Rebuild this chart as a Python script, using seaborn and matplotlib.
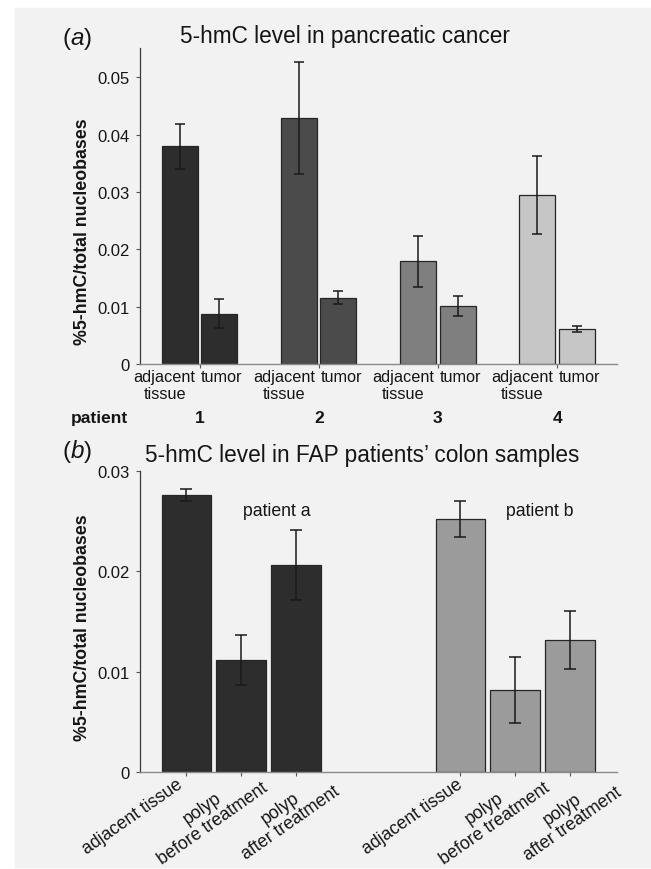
import numpy as np
import pandas as pd
import matplotlib
matplotlib.use('Agg')
import matplotlib.pyplot as plt
import seaborn as sns
from matplotlib.patches import Rectangle
from matplotlib.transforms import offset_copy, blended_transform_factory

# panel (a): 5-hmC in pancreatic cancer
patients = ['1', '2', '3', '4']
tissues = ['adjacent\ntissue', 'tumor']
adjacent_mean = [0.0380, 0.0429, 0.0179, 0.0295]
adjacent_err = [0.0039, 0.0098, 0.0044, 0.0068]
tumor_mean = [0.0088, 0.0116, 0.0101, 0.0061]
tumor_err = [0.0025, 0.0011, 0.0018, 0.0006]
patient_colors = ['#2d2d2d', '#4b4b4b', '#7f7f7f', '#c6c6c6']
yticks_a = [0, 0.01, 0.02, 0.03, 0.04, 0.05]

# panel (b): FAP patients' colon samples
fap_patients = ['a', 'a', 'a', 'b', 'b', 'b']
fap_samples = ['adjacent tissue', 'polyp\nbefore treatment', 'polyp\nafter treatment'] * 2
fap_mean = [0.02767, 0.01119, 0.02068, 0.02521, 0.00813, 0.01319]
fap_err = [0.0006, 0.0025, 0.0035, 0.0018, 0.0033, 0.0029]
fap_colors = {'a': '#2d2d2d', 'b': '#9b9b9b'}
yticks_b = [0, 0.01, 0.02, 0.03]

sns.set_theme(style='ticks')
plt.rcParams['font.family'] = ['Liberation Sans', 'DejaVu Sans']
plt.rcParams['mathtext.fontset'] = 'custom'
plt.rcParams['mathtext.rm'] = 'Liberation Sans'
plt.rcParams['mathtext.it'] = 'Liberation Sans:italic'

fig = plt.figure(figsize=(6.51, 8.70), dpi=100, facecolor='white')
fig.add_artist(Rectangle((15 / 651, 2 / 870), 1 - 15 / 651, 1 - 11 / 870,
                         transform=fig.transFigure, color='#f2f2f2', zorder=-10))

ax1 = fig.add_axes([0.2151, 0.5805, 0.7322, 0.3632])
ax2 = fig.add_axes([0.2151, 0.1118, 0.7322, 0.3453])

txt = '#151515'


def style_axes(ax, yticks):
    ax.set_facecolor('none')
    for s in ['top', 'right']:
        ax.spines[s].set_visible(False)
    ax.spines['left'].set_color('#3a3a3a')
    ax.spines['bottom'].set_color('#8a8a8a')
    ax.spines['left'].set_linewidth(0.9)
    ax.spines['bottom'].set_linewidth(1.0)
    ax.set_yticks(yticks)
    ax.set_yticklabels(['0' if v == 0 else f'{v:g}' for v in yticks])
    ax.tick_params(axis='y', length=3, width=0.8, color='#555555', pad=4.5,
                   labelsize=12, labelcolor=txt)
    ax.tick_params(axis='x', length=3, width=0.8, color='#555555')
    ax.set_xlabel('')


# ---- panel (a)
df_a = pd.DataFrame({
    'patient': patients * 2,
    'tissue': [tissues[0]] * 4 + [tissues[1]] * 4,
    'level': adjacent_mean + tumor_mean,
})
sns.barplot(data=df_a, x='patient', y='level', hue='tissue', hue_order=tissues,
            palette=['#2d2d2d', '#2d2d2d'], width=0.6615, gap=0.086,
            errorbar=None, legend=False, edgecolor='#262626', linewidth=0.9, ax=ax1)

errs_a = [adjacent_err, tumor_err]
bar_groups = list(ax1.containers)
for j, cont in enumerate(bar_groups):
    for i, bar in enumerate(cont):
        bar.set_facecolor(patient_colors[i])
        x = bar.get_x() + bar.get_width() / 2
        ax1.errorbar(x, bar.get_height(), yerr=errs_a[j][i], fmt='none',
                     ecolor='#1a1a1a', elinewidth=1.1, capsize=3.5, capthick=1.1)

style_axes(ax1, yticks_a)
ax1.set_xlim(-0.5, 3.5)
ax1.set_ylim(0, 0.05515)
ax1.set_xticks(range(len(patients)))
ax1.set_xticklabels([])
ax1.set_ylabel('%5-hmC/total nucleobases', fontsize=12.8, fontweight='bold',
               color=txt, va='center', ha='center')
ax1.yaxis.set_label_coords(-0.1206, 0.4225)

trans1 = blended_transform_factory(ax1.transData, ax1.transAxes)
for i, p in enumerate(patients):
    ax1.text(i, 0, tissues[0], ha='right', va='top', multialignment='center',
             fontsize=11.7, color=txt,
             transform=offset_copy(trans1, fig=fig, x=-4, y=-5, units='dots'))
    ax1.text(i, 0, tissues[1], ha='left', va='top', fontsize=11.7, color=txt,
             transform=offset_copy(trans1, fig=fig, x=1.5, y=-5, units='dots'))
    ax1.text(i, 0, p, ha='center', va='baseline', fontsize=12.5, fontweight='bold',
             color=txt,
             transform=offset_copy(trans1, fig=fig, x=0, y=-58.3, units='dots'))
fig.text(70.5 / 651, 1 - 423.3 / 870, 'patient', ha='left', va='baseline',
         fontsize=12.5, fontweight='bold', color=txt)

fig.text(345 / 651, 1 - 43 / 870, '5-hmC level in pancreatic cancer',
         ha='center', va='baseline', fontsize=16.3, color=txt)
fig.text(61.7 / 651, 1 - 45 / 870, r'$\mathrm{(}\mathit{a}\mathrm{)}$',
         ha='left', va='baseline', fontsize=17.5, color=txt)

# ---- panel (b)
keys = [f'{p}|{s}' for p, s in zip(fap_patients, fap_samples)]
order = keys[:3] + [' ', '  '] + keys[3:]
df_b = pd.DataFrame({'sample': keys, 'patient': fap_patients, 'level': fap_mean})
sns.barplot(data=df_b, x='sample', y='level', hue='patient', palette=fap_colors,
            order=order, dodge=False, width=0.903, errorbar=None, legend=False,
            edgecolor='#262626', linewidth=0.9, ax=ax2)

bars_b = [b for cont in list(ax2.containers) for b in cont]
centers = [b.get_x() + b.get_width() / 2 for b in bars_b]
for b, c, e in zip(bars_b, centers, fap_err):
    ax2.errorbar(c, b.get_height(), yerr=e, fmt='none', ecolor='#1a1a1a',
                 elinewidth=1.1, capsize=4, capthick=1.1)

style_axes(ax2, yticks_b)
ax2.set_xlim(-0.845, 7.852)
ax2.set_ylim(0, 0.03)
ax2.set_xticks(centers)
ax2.set_xticklabels([])
ax2.set_ylabel('%5-hmC/total nucleobases', fontsize=12.8, fontweight='bold',
               color=txt, va='center', ha='center')
ax2.yaxis.set_label_coords(-0.1206, 0.4817)

label_offsets = [(-10.7, -3.5), (9.5, 7.8), (27, 4.1),
                 (-4.1, -3.5), (18, 7.8), (34.5, 2.8)]
trans2 = blended_transform_factory(ax2.transData, ax2.transAxes)
for c, lab, (dx, dy) in zip(centers, fap_samples, label_offsets):
    ax2.text(c, 0, lab, rotation=35, rotation_mode='anchor', ha='right', va='top',
             multialignment='center', linespacing=1.05, fontsize=12.8, color=txt,
             transform=offset_copy(trans2, fig=fig, x=dx, y=dy, units='dots'))

ax2.text(0.2874, 0.871, 'patient a', transform=ax2.transAxes, ha='center',
         va='center', fontsize=12.7, color=txt)
ax2.text(0.839, 0.871, 'patient b', transform=ax2.transAxes, ha='center',
         va='center', fontsize=12.7, color=txt)

fig.text(362.5 / 651, 1 - 461.7 / 870, "5-hmC level in FAP patients\u2019 colon samples",
         ha='center', va='baseline', fontsize=16.3, color=txt)
fig.text(61.7 / 651, 1 - 458 / 870, r'$\mathrm{(}\mathit{b}\mathrm{)}$',
         ha='left', va='baseline', fontsize=17.5, color=txt)

fig.savefig('out.png', dpi=100, facecolor=fig.get_facecolor())
